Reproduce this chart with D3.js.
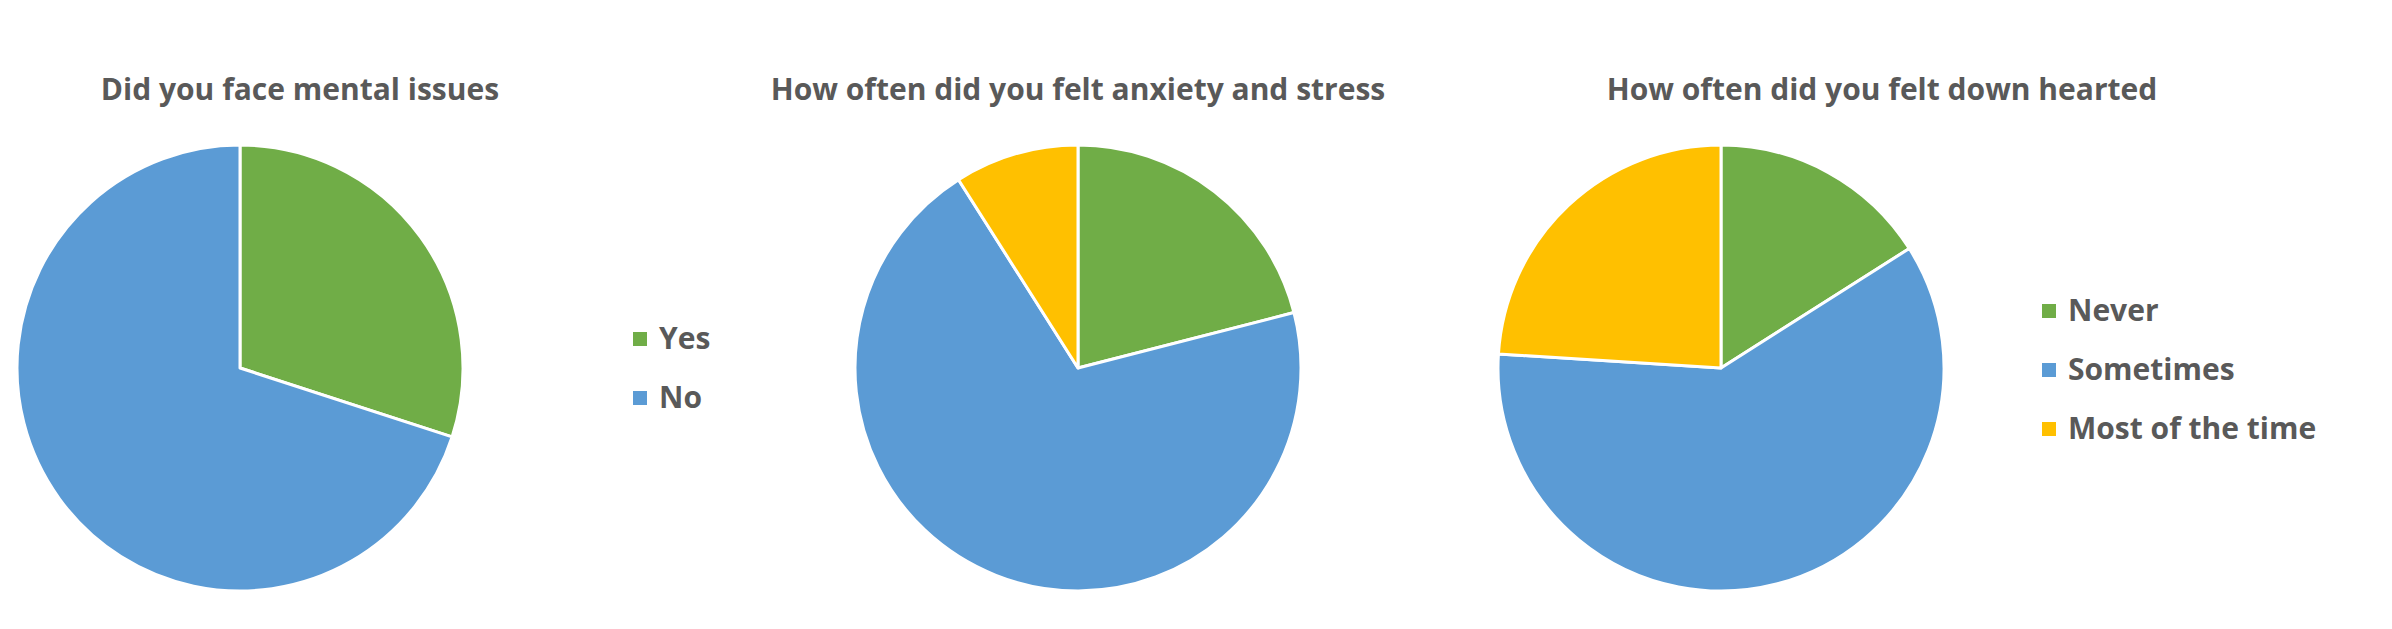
<!DOCTYPE html>
<html>
<head>
<meta charset="utf-8">
<script src="https://cdn.jsdelivr.net/npm/d3@7"></script>
<style>
  html, body { margin: 0; padding: 0; background: #fff; }
  svg { display: block; }
  text { font-family: "Open Sans", Lato, sans-serif; font-weight: 700; fill: #595959; }
</style>
</head>
<body>
<svg id="chart" width="2392" height="629"></svg>
<script>
// ---- data ----
const titles = [
  "Did you face mental issues",
  "How often did you felt anxiety and stress",
  "How often did you felt down hearted"
];
const categoriesYesNo = ["Yes", "No"];
const categoriesFreq = ["Never", "Sometimes", "Most of the time"];
const mentalIssues = [30, 70];
const anxietyStress = [21, 70, 9];
const downHearted = [16, 60, 24];
const colors = { "Yes": "#70AD47", "No": "#5B9BD5", "Never": "#70AD47", "Sometimes": "#5B9BD5", "Most of the time": "#FFC000" };

// ---- layout ----
const svg = d3.select("#chart");
const radius = 223;
const fontSize = 30;
const pies = [
  { title: titles[0], cats: categoriesYesNo, vals: mentalIssues, cx: 240, cy: 368, tx: 300 },
  { title: titles[1], cats: categoriesFreq, vals: anxietyStress, cx: 1078, cy: 368, tx: 1078 },
  { title: titles[2], cats: categoriesFreq, vals: downHearted, cx: 1721, cy: 368, tx: 1882 }
];

const pieGen = d3.pie().sort(null).value(d => d.value);
const arcGen = d3.arc().innerRadius(0).outerRadius(radius);

pies.forEach(p => {
  const data = p.cats.map((c, i) => ({ cat: c, value: p.vals[i] }));
  const g = svg.append("g").attr("transform", `translate(${p.cx},${p.cy})`);
  g.selectAll("path").data(pieGen(data)).join("path")
    .attr("d", arcGen)
    .attr("fill", d => colors[d.data.cat])
    .attr("stroke", "#fff")
    .attr("stroke-width", 3)
    .attr("stroke-linejoin", "round");
  svg.append("text")
    .attr("x", p.tx).attr("y", 100)
    .attr("text-anchor", "middle")
    .attr("font-size", fontSize)
    .text(p.title);
});

// legends
function legend(cats, x, y0, step) {
  const g = svg.append("g");
  cats.forEach((c, i) => {
    const y = y0 + i * step;
    g.append("rect").attr("x", x).attr("y", y - 7).attr("width", 14).attr("height", 14).attr("fill", colors[c]);
    g.append("text").attr("x", x + 26).attr("y", y + 10).attr("font-size", fontSize).text(c);
  });
}
legend(categoriesYesNo, 633, 339, 59);
legend(categoriesFreq, 2042, 311, 59);
</script>
</body>
</html>
